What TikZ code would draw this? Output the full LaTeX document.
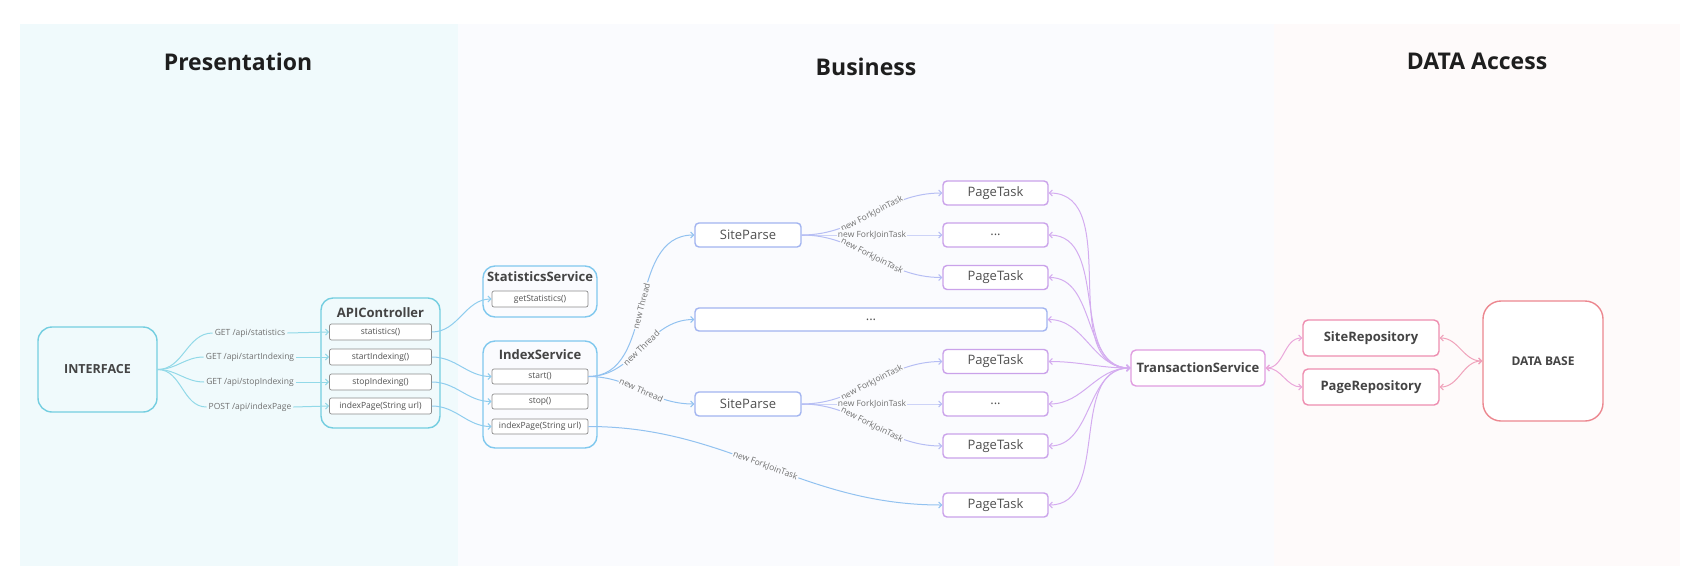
\documentclass[tikz,border=0pt]{standalone}
\usepackage{fontspec}
\setmainfont{Open Sans}
\usetikzlibrary{arrows.meta}

\definecolor{presbg}{HTML}{F0FAFC}
\definecolor{busbg}{HTML}{FAFBFE}
\definecolor{databg}{HTML}{FEFAFA}
\definecolor{cyanbd}{HTML}{74CEE0}
\definecolor{skybd}{HTML}{80C8EE}
\definecolor{cyanln}{HTML}{92D9E8}
\definecolor{skyln}{HTML}{8FCDEE}
\definecolor{threadln}{HTML}{92C2F0}
\definecolor{parsebd}{HTML}{A2B4F0}
\definecolor{parseln}{HTML}{B6BEF4}
\definecolor{taskbd}{HTML}{CAA2EA}
\definecolor{taskln}{HTML}{D4ACF0}
\definecolor{transbd}{HTML}{E09DE0}
\definecolor{transln}{HTML}{EAA6DA}
\definecolor{repobd}{HTML}{EE8EB0}
\definecolor{repoln}{HTML}{F0A2BA}
\definecolor{dbbd}{HTML}{EC878F}
\definecolor{methodbd}{HTML}{8C8C8C}
\definecolor{nodetext}{HTML}{505050}
\definecolor{boldtext}{HTML}{444444}
\definecolor{lbltext}{HTML}{707070}
\definecolor{headtext}{HTML}{1E1E1E}

\newcommand{\tasketc}{...}

\begin{document}
\begin{tikzpicture}[x=1pt,y=-1pt,
  >={Straight Barb[length=3pt,width=6pt]},
  head/.style={font=\bfseries\fontsize{23}{27}\selectfont, text=headtext},
  iface/.style={draw=cyanbd, line width=1.4pt, rounded corners=14pt, inner sep=0pt,
    font=\bfseries\fontsize{12.5}{15}\selectfont, text=boldtext},
  group/.style={draw=cyanbd, line width=1.4pt, rounded corners=12pt, inner sep=0pt},
  grouptitle/.style={font=\bfseries\fontsize{13}{15}\selectfont, text=boldtext},
  method/.style={draw=methodbd, line width=0.7pt, rounded corners=2pt, fill=white, inner sep=0pt,
    minimum width=102pt, minimum height=16pt, font=\fontsize{8.5}{10}\selectfont, text=nodetext},
  route/.style={font=\fontsize{8.5}{10}\selectfont, text=lbltext, inner sep=2pt},
  parse/.style={draw=parsebd, line width=1.4pt, rounded corners=4pt, fill=white, inner sep=0pt,
    minimum width=106pt, minimum height=24pt, font=\fontsize{13}{15}\selectfont, text=nodetext},
  task/.style={parse, draw=taskbd, minimum width=105pt},
  trans/.style={draw=transbd, line width=1.4pt, rounded corners=5pt, fill=white, inner sep=0pt,
    minimum width=134pt, minimum height=36pt, font=\bfseries\fontsize{13}{15}\selectfont, text=boldtext},
  repo/.style={trans, draw=repobd, minimum width=136pt},
  dbbox/.style={trans, draw=dbbd, rounded corners=18pt, minimum width=120pt, minimum height=120pt,
    font=\bfseries\fontsize{12}{15}\selectfont},
  edgelbl/.style={sloped, fill=busbg, inner sep=1pt, font=\fontsize{8.5}{10}\selectfont, text=lbltext},
  cyanline/.style={draw=cyanln, line width=1pt},
  skyline/.style={draw=skyln, line width=1pt},
  threadline/.style={draw=threadln, line width=1pt},
  parseline/.style={draw=parseln, line width=1pt},
  taskline/.style={draw=taskln, line width=1pt},
  transline/.style={draw=transln, line width=1pt},
  repoline/.style={draw=repoln, line width=1pt}
]
  \useasboundingbox (0,0) rectangle (1703,587);
  % layers
  \fill[presbg] (20,24) rectangle (458,566);
  \fill[busbg] (458,24) rectangle (1274,566);
  \fill[databg] (1274,24) rectangle (1680,566);
  \node[head] (presentation) at (238,62) {Presentation};
  \node[head] (business) at (866,67) {Business};
  \node[head] (dataaccess) at (1477,61) {DATA Access};

  % presentation
  \node[iface, minimum width=119pt, minimum height=85pt] (interface) at (97.5,369.5) {INTERFACE};
  \node[group, minimum width=119pt, minimum height=130pt] (apicontroller) at (380.5,363) {};
  \node[grouptitle] (apititle) at (380.5,313) {APIController};
  \foreach \name/\y/\txt in {statistics/332/statistics(), startindexing/357/startIndexing(),
      stopindexing/382/stopIndexing(), indexpage/406/indexPage(String url)}
    \node[method] (\name) at (380.5,\y) {\txt};
  \foreach \y/\txt/\target [count=\i] in {333/{GET /api/statistics}/statistics,
      357/{GET /api/startIndexing}/startindexing, 382/{GET /api/stopIndexing}/stopindexing,
      407/{POST /api/indexPage}/indexpage}{
    \node[route] (route\i) at (250,\y) {\txt};
    \draw[cyanline] (interface.east) to[out=0,in=180] (route\i.west);
    \draw[cyanline,->] (route\i.east) -- (\target.west);
  }

  % business
  \node[group, draw=skybd, minimum width=114pt, minimum height=51pt] (statsservice) at (540,291.5) {};
  \node[grouptitle] (statstitle) at (540,277) {StatisticsService};
  \node[method, minimum width=96pt] (getstatistics) at (540,299) {getStatistics()};
  \node[group, draw=skybd, minimum width=114pt, minimum height=107pt] (indexservice) at (540,394.5) {};
  \node[grouptitle] (indextitle) at (540,355) {IndexService};
  \node[method, minimum width=96pt, minimum height=15pt] (start) at (540,376.5) {start()};
  \node[method, minimum width=96pt, minimum height=15pt] (stop) at (540,401.5) {stop()};
  \node[method, minimum width=96pt, minimum height=15pt] (indexpagesrv) at (540,426.5) {indexPage(String url)};

  \draw[skyline,->] (statistics.east) to[out=0,in=180] (getstatistics.west);
  \draw[skyline,->] (startindexing.east) to[out=0,in=180] (start.west);
  \draw[skyline,->] (stopindexing.east) to[out=0,in=180] (stop.west);
  \draw[skyline,->] (indexpage.east) to[out=0,in=180] (indexpagesrv.west);

  \node[parse] (siteparse1) at (748,235) {SiteParse};
  \node[parse, minimum width=352pt, minimum height=23pt] (threads) at (871,319.5) {\tasketc};
  \node[parse] (siteparse2) at (748,404) {SiteParse};
  \foreach \name/\y/\txt in {task1/193/PageTask, task2/235/\tasketc, task3/277.5/PageTask,
      task4/361.5/PageTask, task5/404/\tasketc, task6/446/PageTask, task7/505/PageTask}
    \node[task] (\name) at (995.5,\y) {\txt};

  \draw[threadline,->] (start.east) to[out=0,in=180] node[edgelbl] {new Thread} (siteparse1.west);
  \draw[threadline,->] (start.east) to[out=0,in=180] node[edgelbl] {new Thread} (threads.west);
  \draw[threadline,->] (start.east) to[out=0,in=180] node[edgelbl] {new Thread} (siteparse2.west);
  \draw[threadline,->] (indexpagesrv.east) to[out=0,in=180] node[edgelbl] {new ForkJoinTask} (task7.west);
  \foreach \sp/\ta/\tb/\tc in {siteparse1/task1/task2/task3, siteparse2/task4/task5/task6}
    \foreach \t in {\ta,\tb,\tc}
      \draw[parseline,->] (\sp.east) to[out=0,in=180] node[edgelbl] {new ForkJoinTask} (\t.west);

  \node[trans] (transaction) at (1198,368) {TransactionService};
  \foreach \t in {task1,task2,task3,threads,task4,task5,task6,task7}
    \draw[taskline,<->] (transaction.west) to[out=180,in=0] (\t.east);

  % data access
  \node[repo] (siterepo) at (1371,338) {SiteRepository};
  \node[repo] (pagerepo) at (1371,387) {PageRepository};
  \node[dbbox] (database) at (1543,361) {DATA BASE};
  \foreach \r in {siterepo,pagerepo}{
    \draw[transline,<->] (transaction.east) to[out=0,in=180] (\r.west);
    \draw[repoline,<->] (\r.east) to[out=0,in=180] (database.west);
  }
\end{tikzpicture}
\end{document}
